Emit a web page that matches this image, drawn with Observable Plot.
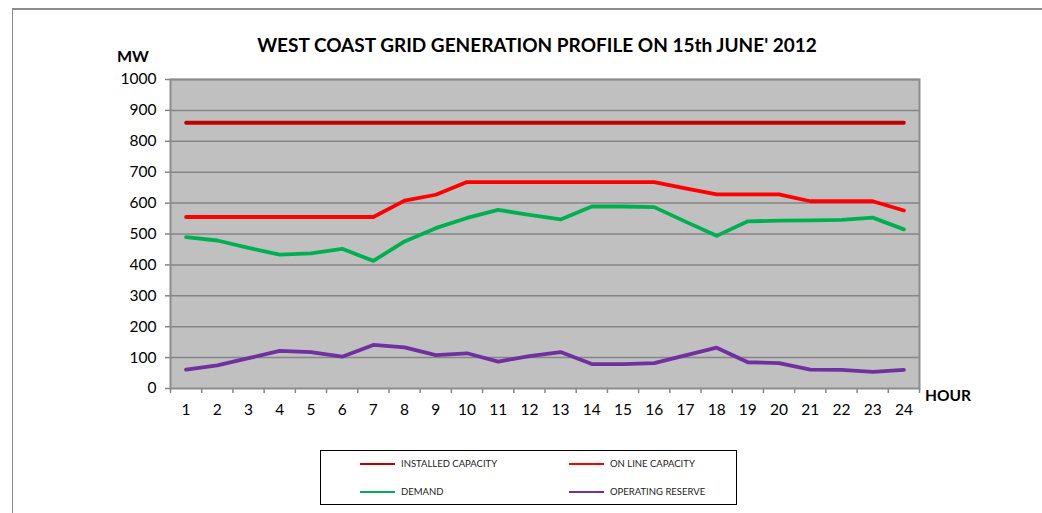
<!DOCTYPE html>
<html><head><meta charset="utf-8">
<script src="https://cdn.jsdelivr.net/npm/d3@7"></script>
<script src="https://cdn.jsdelivr.net/npm/@observablehq/plot@0.6"></script>
<style>
body{margin:0;background:#fff;font-family:Lato,"Open Sans",sans-serif;}
#wrap{position:relative;width:1042px;height:513px;overflow:hidden;}
#border{position:absolute;left:12px;top:8px;width:1100px;height:600px;border-left:1.5px solid #8c8c8c;border-top:2px solid #8c8c8c;}
#title{position:absolute;left:0;width:1074px;top:33px;text-align:center;font-weight:bold;font-size:19px;color:#000;}
#mw{position:absolute;left:117px;top:46px;font-weight:bold;font-size:16px;}
#hour{position:absolute;left:925px;top:386px;font-weight:bold;font-size:15.5px;}
#legend{position:absolute;left:320px;top:450px;width:417px;height:55px;border:1px solid #000;box-sizing:border-box;font-size:9.5px;color:#222;}
.item{position:absolute;display:flex;align-items:center;}
.sw{width:35px;height:2px;margin-right:6px;}
#plot{position:absolute;left:0;top:0;}
</style></head>
<body><div id="wrap"><div id="border"></div><div id="plot"></div>
<div id="title">WEST COAST GRID GENERATION PROFILE ON 15th JUNE' 2012</div>
<div id="mw">MW</div><div id="hour">HOUR</div>
<div id="legend"></div>
</div>
<script>
const hours = [1,2,3,4,5,6,7,8,9,10,11,12,13,14,15,16,17,18,19,20,21,22,23,24];
const seriesNames = ["INSTALLED CAPACITY","ON LINE CAPACITY","DEMAND","OPERATING RESERVE"];
const seriesColors = ["#C00000","#FF0000","#00B050","#7030A0"];
const installed = [860,860,860,860,860,860,860,860,860,860,860,860,860,860,860,860,860,860,860,860,860,860,860,860];
const online = [555,555,555,555,555,555,555,608,627,668,668,668,668,668,668,668,648,628,628,628,606,606,606,576];
const demand = [490,479,455,433,437,452,413,476,519,552,578,562,547,589,589,587,540,494,541,543,544,546,553,515];
const reserve = [61,75,98,122,118,103,141,133,108,114,87,105,118,79,79,82,107,132,85,82,61,60,54,60];
const yTicks = [0,100,200,300,400,500,600,700,800,900,1000];

const seriesValues = [installed, online, demand, reserve];
const rows = [];
seriesNames.forEach((s,i)=>hours.forEach((h,j)=>rows.push({series:s,hour:h,value:seriesValues[i][j]})));
const boundaries = [0.5, ...hours.map(h=>h+0.5)];

const chart = Plot.plot({
  width:1042, height:513,
  marginLeft:170, marginRight:123, marginTop:79, marginBottom:125,
  x:{domain:[0.5,24.5]},
  y:{domain:[0,1000]},
  color:{domain:seriesNames, range:seriesColors},
  style:{fontFamily:'Lato,"Open Sans",sans-serif', fontSize:"15.5px", color:"#000", background:"transparent"},
  marks:[
    Plot.frame({fill:"#C0C0C0"}),
    Plot.ruleY(yTicks.filter(v=>v>0), {stroke:"#858585", strokeWidth:1.5}),
    Plot.axisY(yTicks, {tickSize:5, tickPadding:9, tickFormat:d=>String(d), stroke:"#858585", strokeWidth:1.5, label:null, fontSize:15.5, fill:"#000"}),
    Plot.axisX(hours, {tickSize:0, tickPadding:15, tickFormat:d=>String(d), label:null, fontSize:15.5, fill:"#000"}),
    Plot.axisX(boundaries, {tickSize:5, tickFormat:()=>"", stroke:"#858585", strokeWidth:1.5, label:null}),
    Plot.line(rows, {x:"hour", y:"value", z:"series", stroke:"series", strokeWidth:3.8, strokeLinecap:"round", strokeLinejoin:"round"}),
    Plot.frame({stroke:"#8c8c8c", strokeWidth:2})
  ]
});
document.getElementById("plot").appendChild(chart);

const legend = document.getElementById("legend");
const pos = [[39,7],[248,7],[39,35],[248,35]];
seriesNames.forEach((s,i)=>{
  const d = document.createElement("div");
  d.className = "item";
  d.style.left = pos[i][0]+"px"; d.style.top = pos[i][1]+"px";
  d.innerHTML = `<span class="sw" style="background:${seriesColors[i]}"></span><span>${s}</span>`;
  legend.appendChild(d);
});
</script>
</body></html>
